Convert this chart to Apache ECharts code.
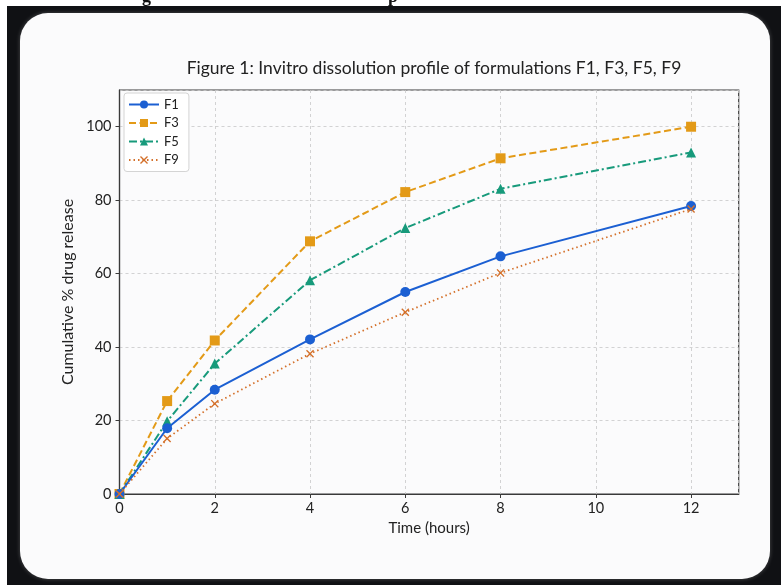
<!DOCTYPE html>
<html>
<head>
<meta charset="utf-8">
<script src="https://cdn.jsdelivr.net/npm/echarts@6/dist/echarts.min.js"></script>
<style>
  html, body { margin: 0; padding: 0; background: #101114; }
  #chart { width: 781px; height: 585px; }
</style>
</head>
<body>
<div id="chart"></div>
<script>
const chart = echarts.init(document.getElementById("chart"));

// time points (hours) and release values
const times = [0, 1, 2, 4, 6, 8, 12];
const f1 = [0, 17.9, 28.4, 42.1, 55.0, 64.7, 78.4];
const f3 = [0, 25.3, 41.8, 68.8, 82.2, 91.4, 100.0];
const f5 = [0, 19.8, 35.5, 58.2, 72.4, 83.1, 93.0];
const f9 = [0, 15.1, 24.6, 38.2, 49.5, 60.2, 77.6];
const seriesNames = ["F1", "F3", "F5", "F9"];

const font = "Lato, 'Noto Sans', sans-serif";
const crossPath =
  "path://M0,1.2L1.2,0L5,3.8L8.8,0L10,1.2L6.2,5L10,8.8L8.8,10L5,6.2L1.2,10L0,8.8L3.8,5Z";

function pairs(vals) {
  return times.map((t, i) => [t, vals[i]]);
}

const option = {
  backgroundColor: "#101114",
  animation: false,
  graphic: [
    // screenshot margins
    { type: "rect", shape: { x: 0, y: 0, width: 781, height: 6 }, style: { fill: "#ffffff" } },
    { type: "rect", shape: { x: 0, y: 0, width: 7, height: 585 }, style: { fill: "#ffffff" } },
    { type: "text", left: 142, top: -12, style: { text: "g", font: "bold 18px 'Liberation Serif', serif", fill: "#111" } },
    { type: "text", left: 388, top: -12, style: { text: "p", font: "bold 18px 'Liberation Serif', serif", fill: "#111" } },
    // white card
    {
      type: "rect",
      z: -10,
      shape: { x: 20, y: 13, width: 750, height: 566, r: 28 },
      style: { fill: "#fbfbfc", shadowBlur: 4, shadowColor: "rgba(255,255,255,0.25)" },
    },
  ],
  title: {
    text: "Figure 1: Invitro dissolution profile of formulations F1, F3, F5, F9",
    left: 429,
    textAlign: "center",
    top: 54,
    textStyle: { fontFamily: font, fontSize: 17.5, fontWeight: "normal", color: "#222" },
  },
  legend: {
    orient: "vertical",
    left: 124,
    top: 93,
    data: seriesNames,
    itemWidth: 30,
    itemHeight: 10,
    itemGap: 5.5,
    padding: [5, 10, 5, 4],
    backgroundColor: "#ffffff",
    borderColor: "#d4d4d4",
    borderWidth: 1,
    borderRadius: 3,
    textStyle: { fontFamily: font, fontSize: 13, color: "#222" },
  },
  grid: {
    left: 119.5,
    right: 42.3,
    top: 90,
    bottom: 91,
    show: true,
    borderColor: "#3a3a3a",
    borderWidth: 1.2,
  },
  xAxis: {
    type: "value",
    min: 0,
    max: 13,
    interval: 2,
    name: "Time (hours)",
    nameLocation: "middle",
    nameGap: 26,
    nameTextStyle: { fontFamily: font, fontSize: 15, color: "#222" },
    axisLine: { lineStyle: { color: "#3a3a3a", width: 1.2 } },
    axisTick: { show: true, length: 4, lineStyle: { color: "#3a3a3a" } },
    axisLabel: { showMaxLabel: false, margin: 7, fontFamily: font, fontSize: 14.5, color: "#222" },
    splitLine: { show: true, lineStyle: { color: "#c8c8c8", type: [3, 3], width: 0.8 } },
  },
  yAxis: {
    type: "value",
    min: 0,
    max: 110,
    interval: 20,
    name: "Cumulative % drug release",
    nameLocation: "middle",
    nameGap: 37,
    nameTextStyle: { fontFamily: font, fontSize: 16, color: "#222" },
    axisLine: { show: true, lineStyle: { color: "#3a3a3a", width: 1.2 } },
    axisTick: { show: true, length: 4, lineStyle: { color: "#3a3a3a" } },
    axisLabel: { showMaxLabel: false, margin: 8, fontFamily: font, fontSize: 14.5, color: "#222" },
    splitLine: { show: true, lineStyle: { color: "#c8c8c8", type: [3, 3], width: 0.8 } },
  },
  series: [
    {
      name: "F1",
      type: "line",
      data: pairs(f1),
      symbol: "circle",
      symbolSize: 10,
      color: "#1b5fd2",
      lineStyle: { width: 2, type: "solid" },
      z: 4,
    },
    {
      name: "F3",
      type: "line",
      data: pairs(f3),
      symbol: "rect",
      symbolSize: 10,
      color: "#e39a17",
      lineStyle: { width: 2, type: [7, 3.5] },
      z: 3,
    },
    {
      name: "F5",
      type: "line",
      data: pairs(f5),
      symbol: "triangle",
      symbolSize: 10,
      color: "#179a7b",
      lineStyle: { width: 2, type: [8, 3, 2, 3] },
      z: 3,
    },
    {
      name: "F9",
      type: "line",
      data: pairs(f9),
      symbol: crossPath,
      symbolSize: 8,
      color: "#d4702a",
      lineStyle: { width: 1.8, type: [1.5, 3] },
      z: 5,
    },
  ],
};

chart.setOption(option);
</script>
</body>
</html>
